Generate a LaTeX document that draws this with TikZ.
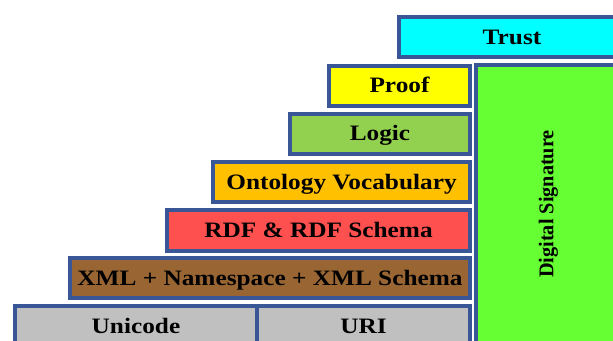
\documentclass[tikz,border=0pt]{standalone}
\usepackage{fontspec}
\setmainfont{Liberation Serif}
\usepackage{graphicx}

\definecolor{edgeblue}{RGB}{57,87,150}
\definecolor{trustfill}{RGB}{0,255,255}
\definecolor{prooffill}{RGB}{255,255,0}
\definecolor{logicfill}{RGB}{146,208,80}
\definecolor{ontofill}{RGB}{255,192,0}
\definecolor{rdffill}{RGB}{255,80,80}
\definecolor{xmlfill}{RGB}{153,102,51}
\definecolor{basefill}{RGB}{192,192,192}
\definecolor{sigfill}{RGB}{102,255,51}

\newcommand{\wide}[1]{\scalebox{1.15}[1]{#1}}

\begin{document}
\begin{tikzpicture}[x=1pt,y=-1pt,
  layer/.style={draw=edgeblue, line width=4pt, inner sep=0pt, outer sep=0pt,
    text height=14.5pt, text depth=0pt,
    font=\fontsize{22}{26}\selectfont\bfseries},
  siglabel/.style={inner sep=0pt, rotate=90, text height=13.9pt, text depth=0pt,
    font=\fontsize{21}{25}\selectfont\bfseries}]
\useasboundingbox (0,0) rectangle (613,340);
\clip (0,0) rectangle (613,340);

% stack of layers, each 40 units tall on a 48.25 pitch
\node[layer, fill=trustfill, minimum width=226pt, minimum height=40pt]
  (trust) at (512,37) {\wide{Trust}};
\node[layer, fill=prooffill, minimum width=141pt, minimum height=40pt]
  (proof) at (399.5,85.5) {\wide{Proof}};
\node[layer, fill=logicfill, minimum width=180pt, minimum height=40pt]
  (logic) at (380,133.5) {\wide{Logic}};
\node[layer, fill=ontofill, minimum width=257pt, minimum height=40pt]
  (onto) at (341.5,182) {\wide{Ontology Vocabulary}};
\node[layer, fill=rdffill, minimum width=303pt, minimum height=41pt]
  (rdf) at (318.5,230) {\wide{RDF \& RDF Schema}};
\node[layer, fill=xmlfill, minimum width=400pt, minimum height=40pt]
  (xml) at (270,278) {\wide{XML + Namespace + XML Schema}};

% base row, running past the lower edge
\node[layer, fill=basefill, minimum width=242pt, minimum height=40pt]
  (unicode) at (136,326) {\wide{Unicode}};
\node[layer, fill=basefill, minimum width=213pt, minimum height=40pt]
  (uri) at (363.5,326) {\wide{URI}};

% vertical column on the right
\node[layer, fill=sigfill, minimum width=149pt, minimum height=285pt]
  (sig) at (550.5,207.5) {};
\node[siglabel] (siglbl) at (546.5,204) {\scalebox{0.965}[1]{Digital Signature}};
\end{tikzpicture}
\end{document}
